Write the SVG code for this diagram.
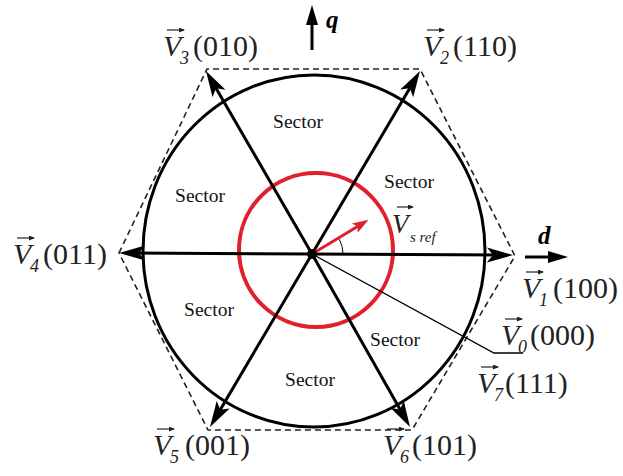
<svg xmlns="http://www.w3.org/2000/svg" width="623" height="476" viewBox="0 0 623 476">
<style>
.vec{stroke:#000;stroke-width:3;fill:none;marker-end:url(#big)}
.sec{font-family:"Liberation Serif","Times New Roman",serif;font-size:19.5px;text-anchor:middle;fill:#111}
.V{font-family:"Liberation Serif","Times New Roman",serif;font-style:italic;font-size:30px;fill:#222}
.sub{font-family:"Liberation Serif","Times New Roman",serif;font-style:italic;font-size:18px;fill:#222}
.code{font-family:"Liberation Serif","Times New Roman",serif;font-size:30px;fill:#222}
.ax{font-family:"Liberation Serif","Times New Roman",serif;font-style:italic;font-weight:bold;font-size:25px;fill:#000}
.ov{stroke:#222;stroke-width:1.2;fill:none;marker-end:url(#tiny)}
</style>
<defs>
<marker id="big" markerUnits="userSpaceOnUse" markerWidth="26" markerHeight="16" viewBox="0 0 26 16" refX="16" refY="8" orient="auto"><path d="M0,0.5 L26,8 L0,15.5 L6,8 z" fill="#000"/></marker>
<marker id="axh" markerUnits="userSpaceOnUse" markerWidth="20" markerHeight="12" viewBox="0 0 20 12" refX="8" refY="6" orient="auto"><path d="M0,0 L20,6 L0,12 z" fill="#000"/></marker>
<marker id="redh" markerUnits="userSpaceOnUse" markerWidth="16" markerHeight="12" viewBox="0 0 16 12" refX="6" refY="6" orient="auto"><path d="M0,0.5 L16,6 L0,11.5 L3,6 z" fill="#e0202a"/></marker>
<marker id="tiny" markerUnits="userSpaceOnUse" markerWidth="6" markerHeight="5" viewBox="0 0 6 5" refX="5" refY="2.5" orient="auto"><path d="M0,0 L6,2.5 L0,5 z" fill="#222"/></marker>
</defs>
<rect width="623" height="476" fill="#fff"/>
<g id="hexagon"><polygon points="119,253 207,69 420,69 515,256 412,430 208,430" fill="none" stroke="#222" stroke-width="1.6" stroke-dasharray="6,4"/></g>
<g id="outer-circle"><ellipse cx="314" cy="251" rx="171" ry="176" fill="none" stroke="#000" stroke-width="3"/></g>
<g id="ref-circle"><circle cx="316" cy="250" r="77" fill="none" stroke="#e0202a" stroke-width="4"/></g>
<g id="connectors">
<line class="vec" x1="312" y1="254" x2="503" y2="255"/>
<line class="vec" x1="312" y1="254" x2="129" y2="253"/>
<line class="vec" x1="312" y1="254" x2="211" y2="79.6"/>
<line class="vec" x1="312" y1="254" x2="414.9" y2="79.6"/>
<line class="vec" x1="312" y1="254" x2="215.1" y2="418.4"/>
<line class="vec" x1="312" y1="254" x2="405.1" y2="418.3"/>
<line x1="312" y1="50" x2="312" y2="17" stroke="#000" stroke-width="3" marker-end="url(#axh)"/>
<line x1="525" y1="257" x2="556" y2="257" stroke="#000" stroke-width="3" marker-end="url(#axh)"/>
<line x1="312" y1="254" x2="360" y2="225" stroke="#e0202a" stroke-width="3" marker-end="url(#redh)"/>
<path d="M343,254 A31,31 0 0,0 339.4,239.4" fill="none" stroke="#000" stroke-width="1"/>
<polyline points="312,254 494,353 523,353" fill="none" stroke="#000" stroke-width="1.3"/>
<circle cx="312" cy="254" r="5" fill="#000"/>
</g>
<g id="sectors">
<text class="sec" x="298" y="128">Sector</text>
<text class="sec" x="200" y="202">Sector</text>
<text class="sec" x="409" y="188">Sector</text>
<text class="sec" x="209" y="316">Sector</text>
<text class="sec" x="395" y="346">Sector</text>
<text class="sec" x="310" y="386">Sector</text>
</g>
<g id="axis-labels">
<text class="ax" x="326" y="28">q</text>
<text class="ax" x="538" y="244">d</text>
</g>
<g id="label-vsref">
<text class="V" x="392" y="233" style="font-size:27px">V</text>
<line class="ov" x1="397" y1="207" x2="413" y2="207"/>
<text class="sub" x="410" y="242" style="font-size:15px">s ref</text>
</g>
<g id="label-v3"><text class="V" x="163" y="56">V</text><line class="ov" x1="167" y1="30" x2="184" y2="30"/><text class="sub" x="180" y="64">3</text><text class="code" x="193" y="56">(010)</text></g>
<g id="label-v2"><text class="V" x="423" y="56">V</text><line class="ov" x1="427" y1="30" x2="444" y2="30"/><text class="sub" x="440" y="64">2</text><text class="code" x="453" y="56">(110)</text></g>
<g id="label-v4"><text class="V" x="13" y="264">V</text><line class="ov" x1="17" y1="238" x2="34" y2="238"/><text class="sub" x="30" y="272">4</text><text class="code" x="43" y="264">(011)</text></g>
<g id="label-v1"><text class="V" x="522" y="298">V</text><line class="ov" x1="526" y1="272" x2="543" y2="272"/><text class="sub" x="539" y="306">1</text><text class="code" x="553" y="298">(100)</text></g>
<g id="label-v0"><text class="V" x="501" y="345">V</text><line class="ov" x1="505" y1="319" x2="522" y2="319"/><text class="sub" x="518" y="353">0</text><text class="code" x="530" y="345">(000)</text></g>
<g id="label-v7"><text class="V" x="477" y="393">V</text><line class="ov" x1="481" y1="367" x2="498" y2="367"/><text class="sub" x="494" y="401">7</text><text class="code" x="505" y="393">(111)</text></g>
<g id="label-v5"><text class="V" x="153" y="455">V</text><line class="ov" x1="157" y1="429" x2="174" y2="429"/><text class="sub" x="170" y="463">5</text><text class="code" x="185" y="455">(001)</text></g>
<g id="label-v6"><text class="V" x="383" y="455">V</text><line class="ov" x1="387" y1="429" x2="404" y2="429"/><text class="sub" x="400" y="463">6</text><text class="code" x="412" y="455">(101)</text></g>
</svg>
